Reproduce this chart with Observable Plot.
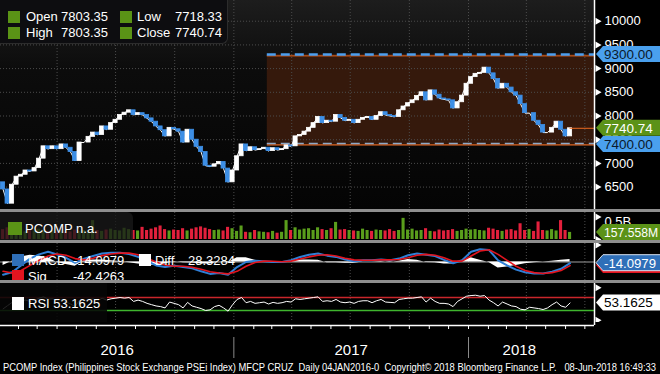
<!DOCTYPE html>
<html><head><meta charset="utf-8">
<script src="https://cdn.jsdelivr.net/npm/d3@7"></script>
<script src="https://cdn.jsdelivr.net/npm/@observablehq/plot@0.6"></script>
<style>
body{margin:0;background:#000;}
#chart{position:relative;width:660px;height:374px;background:#000;overflow:hidden;font-family:"Liberation Sans",Arial,sans-serif;color:#fff;}
.panel{position:absolute;left:0;width:660px;overflow:hidden;}
.panel svg{position:absolute;left:0;top:0;}
.sep{position:absolute;left:0;width:660px;height:3px;background:#8e8e8e;}
.lg{position:absolute;font-size:13px;line-height:16px;height:16px;color:#fff;white-space:pre;}
.sq{position:absolute;}
</style></head><body><div id="chart"></div>
<script>
// ---------------- DATA ----------------
const weekStart = "2016-01-08";           // first weekly bar (Fridays)
const xStart = "2016-01-04", xEnd = "2018-07-16";
const firstOpen = 6600;
const closes = [
 6450,6150,6550,6720,6760,6850,6830,6900,7100,7360,
 7300,7360,7300,7400,7330,7240,7050,7440,7440,7560,
 7650,7600,7780,7710,7850,7920,8020,8070,8120,8020,
 8060,8020,7950,7880,7780,7700,7570,7750,7720,7670,
 7440,7710,7500,7350,7240,6950,6930,6980,7030,6890,
 6600,6850,7150,7400,7260,7340,7280,7300,7330,7260,
 7320,7280,7300,7380,7360,7570,7600,7670,7750,7850,
 7980,7850,7900,7880,8020,7960,7900,7920,7850,7920,
 7960,7980,7920,8000,8080,8020,8000,7980,8120,8200,
 8270,8330,8420,8500,8330,8540,8450,8370,8350,8330,
 8160,8290,8430,8680,8820,8890,8910,9020,8900,8780,
 8580,8680,8600,8500,8430,8250,8060,8060,7900,7810,
 7650,7650,7750,7880,7710,7570,7740.74];
const volumes = [ // millions of shares
 220,260,200,180,240,170,200,190,230,210,
 180,200,170,190,160,170,210,180,200,190,
 420,200,180,210,230,200,190,250,220,200,
 190,270,200,230,260,300,220,190,210,200,
 240,190,230,260,280,250,220,200,210,190,
 270,240,180,300,160,150,200,170,160,150,
 180,140,160,420,200,260,210,230,240,200,
 260,220,200,240,380,210,220,200,190,180,
 230,200,180,210,200,190,220,180,200,470,
 210,230,190,200,240,180,170,210,190,200,
 220,180,200,230,210,220,200,190,250,230,
 200,180,210,220,190,350,200,220,180,390,
 200,190,220,190,420,200,157.558];
const macdVals = [ // every second week
 -150,-120,-40,40,90,120,90,50,-10,40,70,100,110,110,95,60,
 10,-40,-60,-45,-60,-75,-110,-140,-130,-150,-60,0,15,10,0,0,
 20,60,85,100,75,60,30,10,20,20,30,20,40,80,100,85,
 70,25,-15,20,120,150,140,20,-40,-90,-120,-135,-135,-115,-80,-14.0979];
const sigVals = [
 -110,-130,-100,-40,20,70,95,80,40,25,45,75,95,105,105,85,
 45,0,-35,-50,-50,-62,-85,-115,-130,-140,-110,-50,-5,10,8,3,
 10,35,60,80,85,70,45,25,20,20,25,25,30,50,80,90,
 80,50,10,10,70,130,145,90,20,-50,-100,-125,-135,-125,-100,-42.4263];
const rsiVals = [
 35,45,55,62,60,62,58,62,68,72,65,
 66,60,64,56,50,42,62,60,64,66,
 60,68,62,66,68,70,68,70,58,62,
 58,52,48,44,42,38,56,52,48,38,
 55,44,40,36,30,32,42,46,38,28,
 48,64,70,54,58,52,54,56,50,55,
 52,54,58,56,66,64,66,68,70,72,
 58,60,58,64,56,54,56,52,58,60,
 60,54,60,64,56,55,54,64,66,68,
 68,70,72,56,68,58,52,52,50,42,
 58,66,74,76,77,74,76,62,54,44,
 56,50,44,42,34,32,40,38,36,33,
 38,48,56,44,40,53.1625];
const channelStart = "2017-02-22", channelHigh = 9300, channelLow = 7400;
const priceTicks = [6500,7000,7500,8000,8500,9000,9500,10000];
const rsiLevels = {high:70, low:30};
const ohlcNames = ["Open","High","Low","Close"];
const ohlcValues = ["7803.35","7803.35","7718.33","7740.74"];
const years = ["2016","2017","2018"];
const lastVolumeText = "157.558M", volTickText = "0.5B";
const macdText = "-14.0979", sigText = "-42.4263", diffText = "28.3284", rsiText = "53.1625";
const footerText = "PCOMP Index (Philippines Stock Exchange PSEi Index) MFCP CRUZ  Daily 04JAN2016-0  Copyright\u00A9 2018 Bloomberg Finance L.P.   08-Jun-2018 16:49:33";

// ---------------- BUILD ----------------
const parse = d3.utcParse("%Y-%m-%d");
const X0 = parse(xStart), X1 = parse(xEnd);
const DAY = 864e5, half = 3.2*DAY, halfV = 2.4*DAY;
const weeks = closes.map((c,i) => d3.utcDay.offset(parse(weekStart), 7*i));
const rows = closes.map((c,i) => ({date: weeks[i], open: i ? closes[i-1] : firstOpen, close: c, vol: volumes[i], rsi: rsiVals[i]}));
rows.forEach(r => r.up = r.close >= r.open);
const macdRows = macdVals.map((m,k) => ({date: weeks[Math.min(2*k, weeks.length-1)], macd: m, sig: sigVals[k]}));
macdRows[macdRows.length-1].date = weeks[weeks.length-1];
const last = rows[rows.length-1];
const channel = {start: parse(channelStart), end: X1, high: channelHigh, low: channelLow};
const quarters = d3.utcMonth.every(3).range(X0, X1);
const months = d3.utcMonth.range(X0, X1);
const W = 660, MR = 66;
const FONT = "Liberation Sans, Arial, sans-serif";
const baseStyle = {background: "transparent", color: "#fff", fontFamily: FONT, fontSize: "13px"};
const grid = () => Plot.ruleX(quarters, {stroke: "#4c4c4c", strokeDasharray: "1,2"});
const axisLine = () => Plot.ruleX([X1], {stroke: "#fff", strokeWidth: 1.5});
const tickDots = (vals) => Plot.dot(vals, {x: () => X1, y: d => d, symbol: "triangle", rotate: 90, r: 2.6, dx: 3, fill: "#fff", stroke: "none"});

function tag(value, text, fill, color, stroke, fit) {
  return (index, scales, values, dim) => {
    const y = scales.y(value);
    const x0 = dim.width - dim.marginRight;
    const g = d3.create("svg:g");
    g.append("path")
      .attr("d", `M${x0+2},${y}L${x0+9},${y-8}H${dim.width+2}V${y+8}H${x0+9}Z`)
      .attr("fill", fill).attr("stroke", stroke || "none").attr("stroke-width", 1);
    if (text) {
      const t = g.append("text").attr("x", x0+10).attr("y", y).attr("dy", "0.36em")
        .attr("text-anchor", "start")
        .attr("fill", color).attr("font-size", 13.5).attr("font-family", FONT).text(text);
      if (fit) t.attr("textLength", fit).attr("lengthAdjust", "spacingAndGlyphs");
    }
    return g.node();
  };
}

function panel(top, height, opts) {
  const div = document.createElement("div");
  div.className = "panel";
  div.style.top = top + "px";
  div.style.height = height + "px";
  const svg = Plot.plot(Object.assign({
    width: W, height, marginLeft: 0, marginRight: MR, marginTop: 0, marginBottom: 0,
    x: {type: "utc", domain: [X0, X1], axis: null},
    style: baseStyle
  }, opts));
  div.appendChild(svg);
  document.getElementById("chart").appendChild(div);
  return div;
}

const chart = document.getElementById("chart");
// gradient backdrop of main panel
const bg = document.createElement("div");
bg.style.cssText = "position:absolute;left:0;top:0;width:594px;height:209px;background:linear-gradient(to bottom,#1d1d1d 0px,#0c0c0c 70px,#040404 209px);";
chart.appendChild(bg);

// ---- main price panel ----
const mainDiv = panel(0, 209, {
  y: {domain: [6027, 10437], axis: null},
  marks: [
    Plot.rect([channel], {x1: "start", x2: "end", y1: "low", y2: "high", fill: "#35190c"}),
    grid(),
    Plot.ruleY(priceTicks, {stroke: "#4c4c4c", strokeDasharray: "1,2"}),
    Plot.ruleY([channel], {y: "high", x1: "start", x2: "end", stroke: "#ec6a22", strokeWidth: 1, dy: 1.5}),
    Plot.ruleY([channel], {y: "high", x1: "start", x2: "end", stroke: "#4b9ff0", strokeWidth: 2.5, strokeDasharray: "9,5"}),
    Plot.ruleY([channel], {y: "low", x1: "start", x2: "end", stroke: "#ec6a22", strokeWidth: 1.2, dy: 0.5}),
    Plot.ruleY([channel], {y: "low", x1: "start", x2: "end", stroke: "#8ea9c6", strokeWidth: 1.5, strokeDasharray: "9,5", dy: -1}),
    Plot.line(rows, {x: "date", y: "close", stroke: "#ffffff", strokeWidth: 1}),
    Plot.rect(rows, {x1: d => new Date(+d.date - half), x2: d => new Date(+d.date + half), y1: "open", y2: "close",
      fill: d => d.up ? "#ffffff" : "#3d8fe6", stroke: d => d.up ? "#ffffff" : "#3d8fe6", strokeWidth: 0.8}),
    Plot.ruleY([last], {y: "close", x1: "date", x2: () => X1, stroke: "#ec6a22", strokeWidth: 1}),
    Plot.axisY(priceTicks, {anchor: "right", tickSize: 0, tickPadding: 10, tickFormat: d => String(d), fontSize: 13}),
    tickDots(priceTicks),
    axisLine(),
    tag(channelHigh, "9300.00", "#4aa0ee", "#0b1a2c"),
    tag(last.close, "7740.74", "#5b9218", "#ffffff"),
    tag(channelLow, "7400.00", "#4aa0ee", "#0b1a2c")
  ]
});

// ---- volume panel ----
const volDiv = panel(212, 28, {
  marginBottom: 1,
  y: {domain: [0, 600], axis: null},
  marks: [
    grid(),
    Plot.rectY(rows, {x1: d => new Date(+d.date - halfV), x2: d => new Date(+d.date + halfV), y: "vol",
      fill: d => d.up ? "#5a9e1c" : "#e3203c"}),
    axisLine(),
    tickDots([0, 500]),
    Plot.text([500], {x: () => X1, y: d => d, text: () => volTickText, textAnchor: "start", dx: 10, dy: 5, fill: "#fff", fontSize: 13}),
    tag(last.vol, lastVolumeText, "#5b9218", "#ffffff", null, 54)
  ]
});

// ---- MACD panel ----
const macdDiv = panel(243, 37, {
  y: {domain: [-218, 218], axis: null},
  marks: [
    grid(),
    Plot.ruleY([0], {stroke: "#a0a0a0", strokeWidth: 1.2}),
    Plot.areaY(macdRows, {x: "date", y1: 0, y2: d => d.macd - d.sig, fill: "#ffffff"}),
    Plot.line(macdRows, {x: "date", y: "macd", stroke: "#2f7fd6", strokeWidth: 2}),
    Plot.line(macdRows, {x: "date", y: "sig", stroke: "#e2141f", strokeWidth: 1.6}),
    axisLine(),
    tickDots([200]),
    tag(sigVals[sigVals.length-1], "", "#e2141f", "#fff"),
    tag(macdVals[macdVals.length-1], macdText, "#2f6fb8", "#ffffff", "#d8e2f0", 52)
  ]
});

// ---- RSI panel ----
const rsiDiv = panel(283, 39, {
  y: {domain: [-6.9, 113.1], axis: null},
  marks: [
    grid(),
    Plot.ruleY([rsiLevels.high], {stroke: "#c9262b", strokeWidth: 1.5}),
    Plot.ruleY([rsiLevels.low], {stroke: "#3fb52e", strokeWidth: 1.5}),
    Plot.line(rows, {x: "date", y: "rsi", stroke: "#ffffff", strokeWidth: 1}),
    axisLine(),
    tickDots([0, 100]),
    tag(rsiVals[rsiVals.length-1], rsiText, "#ffffff", "#000000")
  ]
});

// ---- bottom time axis ----
const yearRows = years.map(y => {
  const a = d3.max([X0, parse(y + "-01-01")]);
  const b = d3.min([last.date, parse((+y + 1) + "-01-01")]);
  return {label: y, mid: new Date((+a + +b) / 2), start: parse(y + "-01-01")};
});
panel(322, 52, {
  y: {domain: [0, 52], range: [0, 52], axis: null},
  marks: [
    Plot.ruleY([{y: 3, a: X0, b: X1}], {y: "y", x1: "a", x2: "b", stroke: "#fff", strokeWidth: 1.5}),
    Plot.ruleX(months, {y1: 3, y2: 7, stroke: "#fff"}),
    Plot.ruleX([X1], {y1: 0, y2: 3, stroke: "#fff", strokeWidth: 1.5}),
    Plot.ruleX(yearRows.slice(1), {x: "start", y1: 15, y2: 36, stroke: "#8a8a8a"}),
    Plot.text(yearRows, {x: "mid", y: 28, text: "label", fill: "#fff", fontSize: 15}),
    () => d3.create("svg:text").attr("x", 3).attr("y", 48.5).attr("textLength", 653)
      .attr("lengthAdjust", "spacingAndGlyphs").attr("text-anchor", "start").attr("font-size", 11.5).attr("font-family", FONT)
      .attr("fill", "#fff").text(footerText).node()
  ]
});

// ---- separators ----
[209, 240, 280].forEach(t => {
  const s = document.createElement("div"); s.className = "sep"; s.style.top = t + "px"; chart.appendChild(s);
});

// ---- legends ----
function el(parent, cls, css, text) {
  const e = document.createElement("div"); e.className = cls; e.style.cssText = css;
  if (text != null) e.textContent = text; parent.appendChild(e); return e;
}
// OHLC box
const box = el(chart, "", "position:absolute;left:0;top:0;width:227px;height:43px;background:#0d0d10;border-right:1px solid #2c2c2c;border-bottom:1px solid #2c2c2c;border-radius:0 0 6px 0;");
ohlcNames.forEach((n, i) => {
  const col = i < 2 ? 0 : 1, row = i % 2;
  const sx = col ? 120 : 8, tx = col ? 137 : 26, vx = col ? 175 : 61;
  const cy = row ? 33 : 16.5;
  el(box, "sq", `left:${sx}px;top:${cy-6}px;width:12px;height:12px;background:#5a9316;`);
  el(box, "lg", `left:${tx}px;top:${cy-8}px;`, n);
  el(box, "lg", `left:${vx}px;top:${cy-8}px;`, ohlcValues[i]);
});
// volume legend
const vb = el(volDiv, "", "position:absolute;left:0;top:0;width:133px;height:28px;background:rgba(24,24,24,0.78);border-radius:0 6px 0 0;");
el(vb, "sq", "left:8px;top:10px;width:14px;height:13px;background:#5a9316;");
el(vb, "lg", "left:25px;top:9px;", "PCOMP n.a.");
// MACD legend
el(macdDiv, "sq", "left:12px;top:11px;width:12px;height:12px;background:#2f6fb8;");
el(macdDiv, "lg", "left:28px;top:10px;", "MACD");
el(macdDiv, "lg", "left:73px;top:10px;", macdText);
el(macdDiv, "sq", "left:139px;top:11px;width:12px;height:12px;background:#ffffff;");
el(macdDiv, "lg", "left:155px;top:10px;", "Diff");
el(macdDiv, "lg", "left:188px;top:10px;", diffText);
el(macdDiv, "sq", "left:12px;top:27px;width:12px;height:12px;background:#e2141f;");
el(macdDiv, "lg", "left:28px;top:26px;", "Sig");
el(macdDiv, "lg", "left:73px;top:26px;", sigText);
// RSI legend
const rb = el(rsiDiv, "", "position:absolute;left:0;top:0;width:107px;height:39px;background:rgba(6,6,6,0.88);");
el(rb, "sq", "left:12px;top:14px;width:12px;height:13px;background:#ffffff;");
el(rb, "lg", "left:28px;top:13px;", "RSI " + rsiText);
</script></body></html>
